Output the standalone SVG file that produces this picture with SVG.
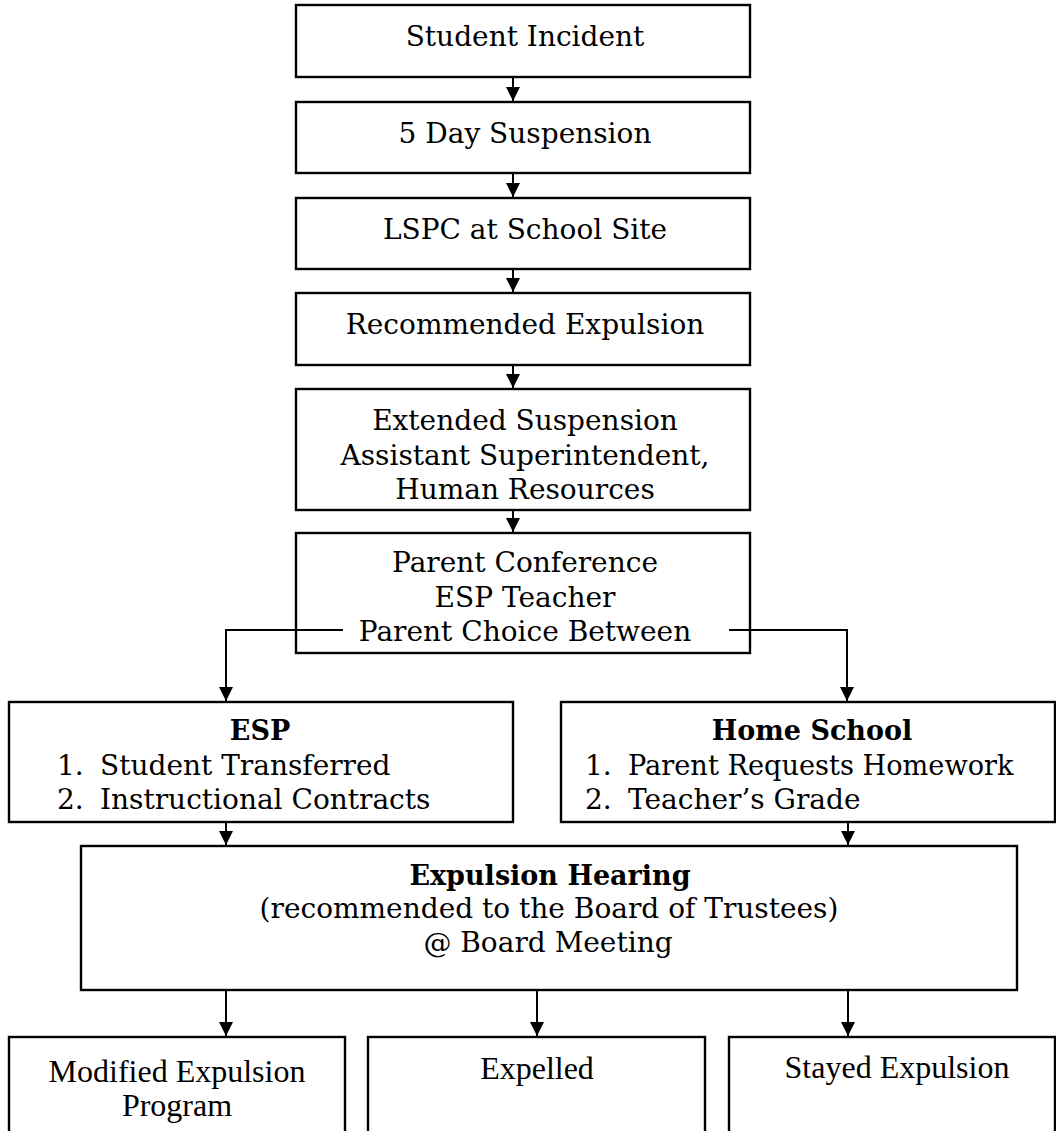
<svg xmlns="http://www.w3.org/2000/svg" width="1056" height="1131" viewBox="0 0 1056 1131">
<defs>
<style>
.box{fill:#fff;stroke:#000;stroke-width:2.4}
.t{font-family:"DejaVu Serif","Liberation Serif",serif;font-size:28px;fill:#000;text-anchor:middle}
.l{font-family:"DejaVu Serif","Liberation Serif",serif;font-size:28px;fill:#000}
.b{font-weight:bold;font-size:27px}
.tr{font-family:"Liberation Serif","Times New Roman",serif;font-size:32px;fill:#000;text-anchor:middle}
.c{fill:none;stroke:#000;stroke-width:2;marker-end:url(#ah)}
</style>
<marker id="ah" markerUnits="userSpaceOnUse" markerWidth="14" markerHeight="14" refX="14" refY="7" orient="auto" viewBox="0 0 14 14">
<path d="M0,0 L14,7 L0,14 z" fill="#000"/>
</marker>
</defs>
<rect width="1056" height="1131" fill="#fff"/>
<g id="connectors">
<line class="c" x1="513" y1="77" x2="513" y2="101"/>
<line class="c" x1="513" y1="173" x2="513" y2="197"/>
<line class="c" x1="513" y1="269" x2="513" y2="292"/>
<line class="c" x1="513" y1="365" x2="513" y2="388"/>
<line class="c" x1="513" y1="510" x2="513" y2="532"/>
<polyline class="c" points="343,630 226,630 226,701"/>
<polyline class="c" points="729,630 847,630 847,701"/>
<line class="c" x1="226" y1="822" x2="226" y2="845"/>
<line class="c" x1="848" y1="822" x2="848" y2="845"/>
<line class="c" x1="226" y1="990" x2="226" y2="1036"/>
<line class="c" x1="537" y1="990" x2="537" y2="1036"/>
<line class="c" x1="848" y1="990" x2="848" y2="1036"/>
</g>
<g id="n1"><rect class="box" x="296" y="5" width="454" height="72"/><text class="t" x="525" y="46">Student Incident</text></g>
<g id="n2"><rect class="box" x="296" y="102" width="454" height="71"/><text class="t" x="525" y="143">5 Day Suspension</text></g>
<g id="n3"><rect class="box" x="296" y="198" width="454" height="71"/><text class="t" x="525" y="239">LSPC at School Site</text></g>
<g id="n4"><rect class="box" x="296" y="293" width="454" height="72"/><text class="t" x="525" y="334">Recommended Expulsion</text></g>
<g id="n5"><rect class="box" x="296" y="389" width="454" height="121"/><text class="t" x="525" y="430">Extended Suspension</text><text class="t" x="525" y="465">Assistant Superintendent,</text><text class="t" x="525" y="499">Human Resources</text></g>
<g id="n6"><rect class="box" x="296" y="533" width="454" height="120" style="fill:none"/><text class="t" x="525" y="572">Parent Conference</text><text class="t" x="525" y="607">ESP Teacher</text><text class="t" x="525" y="641">Parent Choice Between</text></g>
<g id="n7"><rect class="box" x="9" y="702" width="504" height="120"/><text class="t b" x="260" y="740">ESP</text><text class="l" x="57" y="775">1.</text><text class="l" x="100" y="775">Student Transferred</text><text class="l" x="57" y="809">2.</text><text class="l" x="100" y="809">Instructional Contracts</text></g>
<g id="n8"><rect class="box" x="561" y="702" width="494" height="120"/><text class="t b" x="812" y="740">Home School</text><text class="l" x="585" y="775">1.</text><text class="l" x="628" y="775" style="font-size:27.2px">Parent Requests Homework</text><text class="l" x="585" y="809">2.</text><text class="l" x="628" y="809">Teacher’s Grade</text></g>
<g id="n9"><rect class="box" x="81" y="846" width="936" height="144"/><text class="t b" x="550" y="885">Expulsion Hearing</text><text class="t" x="549" y="918">(recommended to the Board of Trustees)</text><text class="t" x="548" y="952">@ Board Meeting</text></g>
<g id="n10"><rect class="box" x="9" y="1037" width="336" height="110"/><text class="tr" x="177" y="1082">Modified Expulsion</text><text class="tr" x="177" y="1116">Program</text></g>
<g id="n11"><rect class="box" x="368" y="1037" width="337" height="110"/><text class="tr" x="537" y="1079">Expelled</text></g>
<g id="n12"><rect class="box" x="729" y="1037" width="326" height="110"/><text class="tr" x="897" y="1078">Stayed Expulsion</text></g>
</svg>
